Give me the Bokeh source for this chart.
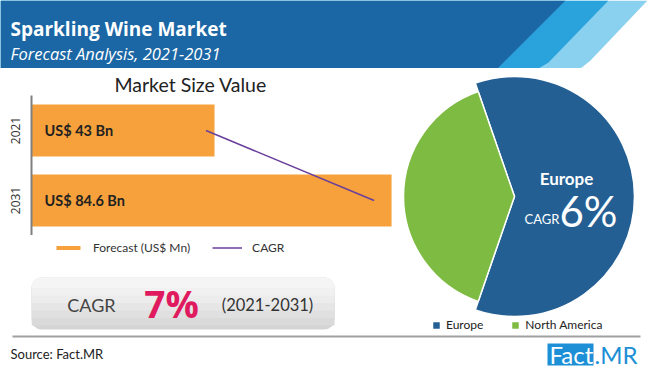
import math
from bokeh.plotting import figure
from bokeh.layouts import column, row
from bokeh.models import (Range1d, FactorRange, Legend, LegendItem,
                          BoxAnnotation, ColumnDataSource)
from bokeh.embed import file_html
from bokeh.resources import INLINE
from bokeh.core.properties import value

# ---------------- data ----------------
years = ["2021", "2031"]
market_value = [43, 84.6]            # US$ Bn
cagr_line_x = [41, 80.5]             # CAGR trend line end points
cagr_overall = 7                      # %
cagr_period = "(2021-2031)"
regions = ["Europe", "North America"]
region_share = [60.6, 39.4]           # pie shares (%)
europe_cagr = 6                       # %

# ---------------- styles ----------------
ORANGE = "#f6a13b"
PURPLE = "#6a3f9c"
HDR_DARK = "#1b67a5"
HDR_MID = "#2aa2dc"
HDR_LIGHT = "#8ad0ef"
EU_BLUE = "#245f94"
NA_GREEN = "#7dbb42"
PINK = "#df1a5e"
LOGO = "#1d8fd6"
FONT = value("Lato")
region_colors = [EU_BLUE, NA_GREEN]
region_radius = [120, 111]


def blank(w, h, xr, yr, left=0):
    f = figure(width=w, height=h, x_range=xr, y_range=yr,
               output_backend="svg", toolbar_location=None,
               x_axis_location=None, y_axis_location=None, min_border=0,
               min_border_left=left)
    f.grid.visible = False
    f.outline_line_color = None
    f.background_fill_color = "white"
    f.border_fill_color = "white"
    return f


# ---------------- header ----------------
hdr = blank(650, 68, Range1d(0, 650), Range1d(68, 0))
hdr.patch([0, 647, 590, 580, 0], [0, 0, 60, 68, 68], color=HDR_LIGHT, line_color=None)
hdr.patch([0, 608, 548, 538, 0], [0, 0, 62, 68, 68], color=HDR_MID, line_color=None)
hdr.patch([0, 565, 497, 0], [0, 0, 68, 68], color=HDR_DARK, line_color=None)
hdr.text(x=[10], y=[28], text=["Sparkling Wine Market"], text_font=value("Open Sans"),
         text_font_style="bold", text_font_size="19px", text_color="white",
         text_baseline="alphabetic")
hdr.text(x=[10], y=[53], text=["Forecast Analysis, 2021-2031"], text_font=value("Open Sans"),
         text_font_style="italic", text_font_size="16.5px", text_color="white",
         text_baseline="alphabetic")

# ---------------- bar chart title ----------------
ttl = blank(400, 27, Range1d(31, 400), Range1d(95, 68), left=31)
ttl.text(x=[114], y=[83.5], text=["Market Size Value"], text_font=FONT,
         text_font_size="19.5px", text_color="#222222", text_baseline="middle")

# ---------------- bar chart ----------------
bar = figure(width=400, height=140,
             y_range=FactorRange(factors=years[::-1], range_padding=0),
             x_range=Range1d(0, 86.7),
             output_backend="svg", toolbar_location=None,
             x_axis_location=None, y_axis_location="left",
             min_border_left=31, min_border_right=0, min_border_top=0,
             min_border_bottom=0)
bar.grid.visible = False
bar.outline_line_color = None
bar.background_fill_color = "white"
bar.border_fill_color = "white"
ax = bar.yaxis[0]
ax.major_label_orientation = "vertical"
ax.major_tick_line_color = None
ax.minor_tick_line_color = None
ax.axis_line_color = "#7f7f7f"
ax.axis_line_width = 2
ax.major_label_text_font = "Open Sans"
ax.major_label_text_font_size = "12px"
ax.major_label_text_color = "#333333"
ax.major_label_standoff = 6

src = ColumnDataSource(dict(year=years, val=market_value,
                            label=[f"US$ {v:g} Bn" for v in market_value]))
bar.hbar(y="year", right="val", left=0, height=0.743, color=ORANGE,
         line_color=None, source=src)
bar.text(x=0, y="year", text="label", x_offset=13, source=src, text_font=FONT,
         text_font_style="bold", text_font_size="14.5px", text_color="#222222",
         text_baseline="middle")
bar.line(x=cagr_line_x, y=years, line_color=PURPLE, line_width=1.5)

# ---------------- legend + CAGR box ----------------
low = blank(400, 99, Range1d(31, 400), Range1d(334, 235), left=31)
# legend proxies (kept outside the visible range)
lg_bar = low.hbar(y=[-1000], right=[1], left=0, height=1, color=ORANGE, line_color=None)
lg_line = low.line(x=[0, 1], y=[-1000, -1000], line_color=PURPLE, line_width=1.5)
leg = Legend(items=[LegendItem(label="Forecast (US$ Mn)", renderers=[lg_bar]),
                    LegendItem(label="CAGR", renderers=[lg_line])],
             orientation="horizontal", location=(22, 79), padding=0, margin=0,
             spacing=22, label_standoff=10, glyph_width=30, glyph_height=5,
             label_height=14, label_text_font="Lato", label_text_font_size="12px",
             label_text_color="#333333", border_line_color=None,
             background_fill_alpha=0)
low.add_layout(leg)

low.add_layout(BoxAnnotation(left=31, right=334, top=277, bottom=329, border_radius=10,
                             fill_color="#d4d4d4", fill_alpha=1, line_color=None,
                             level="underlay"))
shades = ["#dadada", "#e0e0e0", "#e6e6e6", "#ececec", "#f1f1f1", "#f5f5f5"]
for i, c in enumerate(shades):
    bottom = 329 - 4 - i * 7.5
    low.add_layout(BoxAnnotation(left=31, right=334, top=277, bottom=bottom,
                                 border_radius=(10, 10, 0, 0), fill_color=c,
                                 fill_alpha=1, line_color=None, level="underlay"))
low.text(x=[91], y=[304], text=["CAGR"], text_font=FONT, text_font_size="18px",
         text_color="#444444", text_align="center", text_baseline="middle")
low.text(x=[171], y=[303], text=[f"{cagr_overall}%"], text_font=value("Open Sans"),
         text_font_style="bold", text_font_size="37px", text_color=PINK,
         text_align="center", text_baseline="middle")
low.text(x=[267], y=[304], text=[cagr_period], text_font=FONT, text_font_size="16.5px",
         text_color="#333333", text_align="center", text_baseline="middle")

# ---------------- pie ----------------
pie = blank(250, 266, Range1d(400, 650), Range1d(0, 266))
total = sum(region_share)
angs = [s / total * 2 * math.pi for s in region_share]
starts, ends = [], []
a0 = -angs[0] / 2
for a in angs:
    starts.append(a0)
    ends.append(a0 + a)
    a0 += a
psrc = ColumnDataSource(dict(region=regions, start=starts, end=ends,
                             color=region_colors, r=region_radius))
pie_r = pie.wedge(x=514, y=138, radius="r", start_angle="start", end_angle="end",
                  fill_color="color", line_color="white", line_width=1.5, source=psrc)
pleg = Legend(items=[LegendItem(label=regions[i], renderers=[pie_r], index=i)
                     for i in range(len(regions))],
              orientation="horizontal", location=(31, 2), padding=0, margin=0,
              spacing=27, label_standoff=5, glyph_width=10, glyph_height=10,
              label_height=12, label_text_font="Lato", label_text_font_size="12px",
              label_text_color="#222222", border_line_color=None,
              background_fill_alpha=0)
pie.add_layout(pleg)
pie.text(x=[566], y=[156], text=[regions[0]], text_font=FONT, text_font_style="bold",
         text_font_size="17px", text_color="white", text_align="center",
         text_baseline="middle")
pie.text(x=[559], y=[116], text=["CAGR"], text_font=FONT, text_font_size="13px",
         text_color="white", text_align="right", text_baseline="middle")
pie.text(x=[559], y=[124], text=[f"{europe_cagr}%"], text_font=FONT,
         text_font_size="42px", text_color="white", text_align="left",
         text_baseline="middle")

# ---------------- footer ----------------
ftr = blank(650, 36, Range1d(0, 650), Range1d(370, 334))
ftr.segment(x0=[12], y0=[336], x1=[640], y1=[336], line_color="#a0a0a0", line_width=2)
ftr.text(x=[10], y=[353], text=["Source: Fact.MR"], text_font=FONT, text_font_size="13px",
         text_color="#222222", text_baseline="middle")
ftr.quad(left=[547], right=[593], top=[343], bottom=[365], color=LOGO, line_color=None)
ftr.text(x=[549], y=[354], text=["Fact"], text_font=FONT, text_font_size="24px",
         text_color="white", text_baseline="middle")
ftr.text(x=[594], y=[354], text=[".MR"], text_font=FONT, text_font_size="24px",
         text_color=LOGO, text_baseline="middle")

layout = column(hdr, row(column(ttl, bar, low), pie), ftr)
open("out.html", "w").write(file_html(layout, INLINE))
